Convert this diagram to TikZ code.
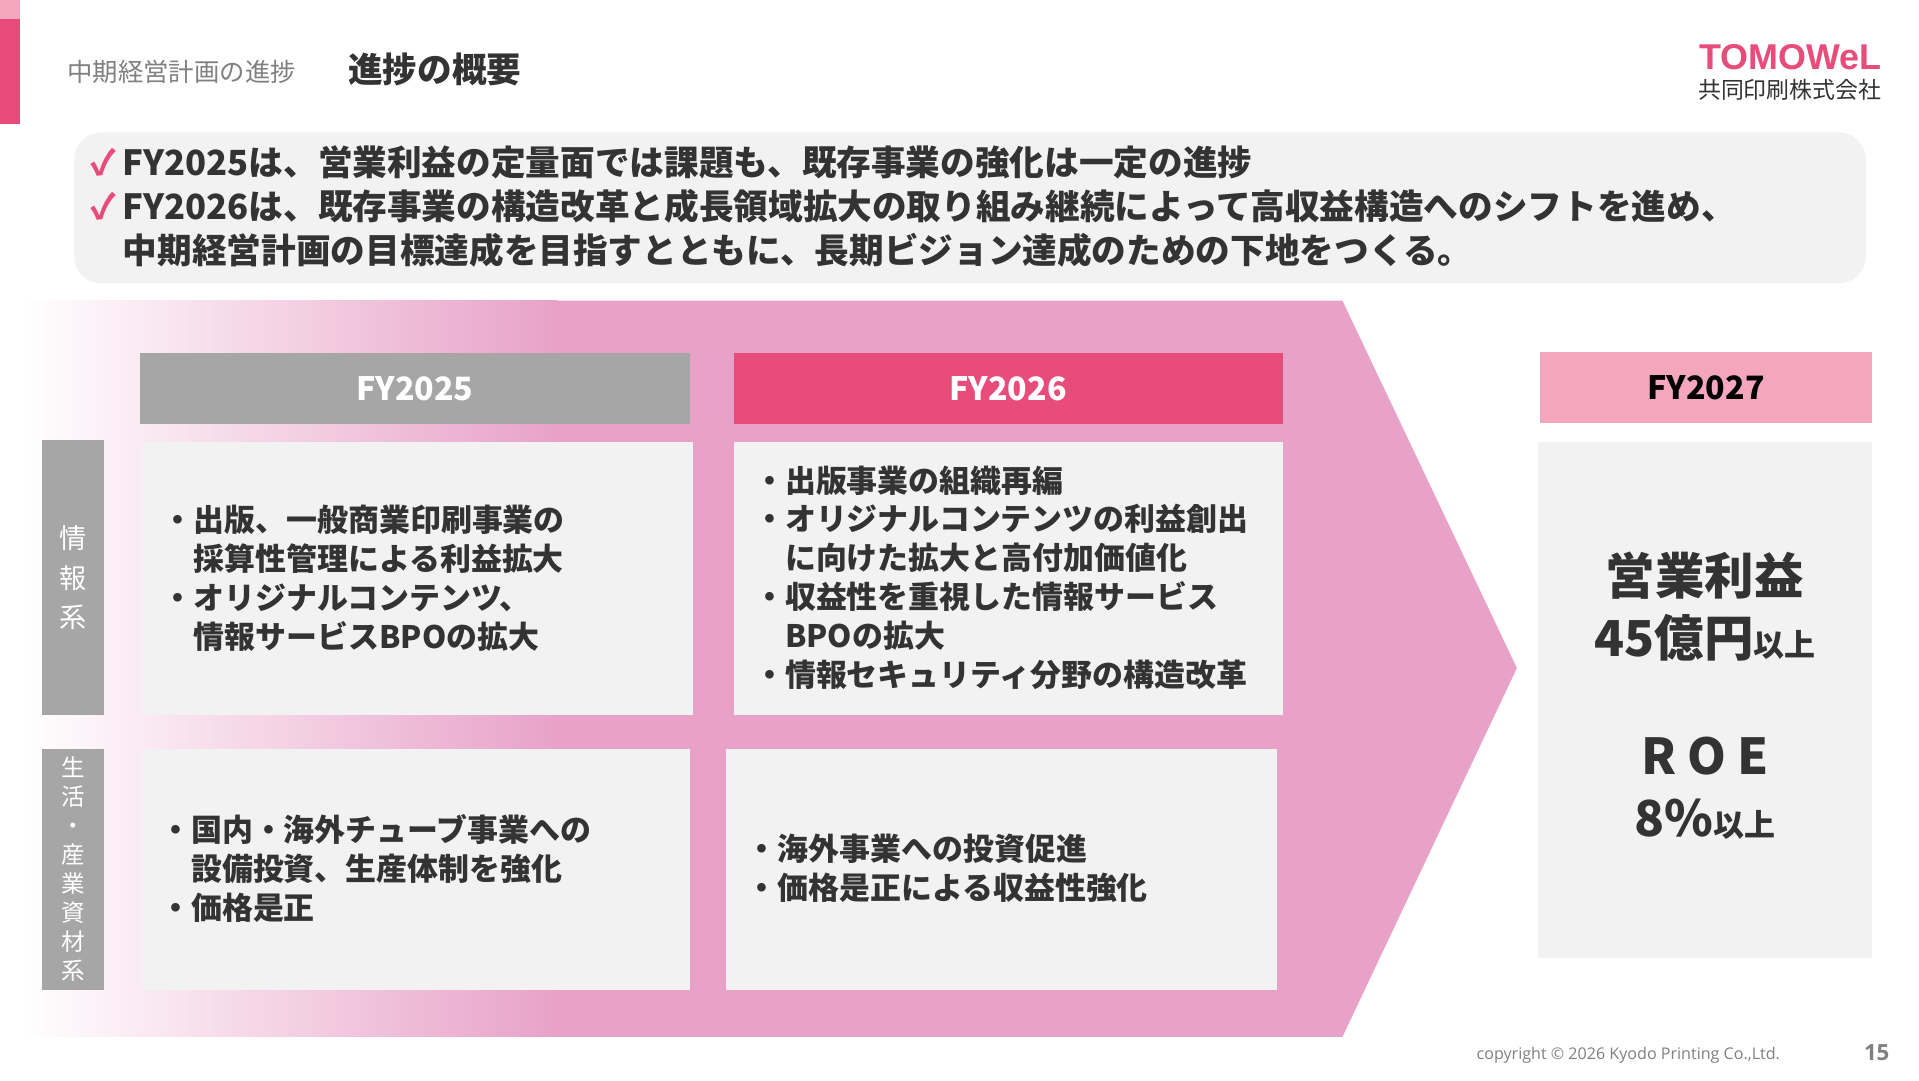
\documentclass[tikz,border=0pt]{standalone}
\usepackage{fontspec}
\setmainfont{Noto Sans CJK JP}
\newfontfamily\lat{Liberation Sans}
\newfontfamily\cp{Open Sans}
\definecolor{pk}{HTML}{E8A2C8}
\definecolor{rd}{HTML}{E84C7B}
\definecolor{lg}{HTML}{F2F2F2}
\definecolor{gy}{HTML}{A6A6A6}
\definecolor{lp}{HTML}{F4A6BE}
\definecolor{tx}{HTML}{333333}
\begin{document}
\begin{tikzpicture}[x=1pt,y=-1pt,
  box/.style={fill=lg,draw=none},
  hd/.style={font=\fontsize{26}{28}\selectfont\bfseries,text=white},
  bl/.style={anchor=west,align=left,text=tx,font=\fontsize{25}{31.5}\selectfont\bfseries},
  side/.style={text=white,align=center}]
\useasboundingbox (0,0) rectangle (1551,873);
\fill[white] (0,0) rectangle (1551,873);
\fill[rd] (0,15) rectangle (16,100);
\fill[lp] (0,0) rectangle (16,15);
\node[anchor=west,text=gray,font=\fontsize{20.5}{22}\selectfont] (t1) at (51,58) {中期経営計画の進捗};
\node[anchor=west,text=tx,font=\fontsize{28}{30}\selectfont\bfseries] (t2) at (278,56) {進捗の概要};
\node[anchor=east,text=rd,font=\lat\fontsize{29}{30}\selectfont\bfseries] (logo) at (1524,46) {TOMOWeL};
\node[anchor=east,text=tx,font=\fontsize{18.5}{20}\selectfont] (logo2) at (1524,73) {共同印刷株式会社};
\fill[lg,rounded corners=22] (60,107) rectangle (1508,229);
\node[anchor=west,text=tx,align=left,font=\fontsize{28}{35.5}\selectfont\bfseries] (sum) at (70,167)
 {\textcolor{rd}{✓}\hspace{5pt}FY2025は、営業利益の定量面では課題も、既存事業の強化は一定の進捗\\
  \textcolor{rd}{✓}\hspace{5pt}FY2026は、既存事業の構造改革と成長領域拡大の取り組み継続によって高収益構造へのシフトを進め、\\
  \phantom{✓}\hspace{5pt}中期経営計画の目標達成を目指すとともに、長期ビジョン達成のための下地をつくる。};
\fill[pk] (17,243) -- (1085,243) -- (1226,540) -- (1085,838) -- (17,838) -- cycle;
\shade[left color=white,right color=pk,draw=none] (17,243) rectangle (450,838);
\node[fill=gy,minimum width=445,minimum height=58,hd] (h1) at (335.5,314) {FY2025};
\node[fill=rd,minimum width=444,minimum height=58,hd] (h2) at (815,314) {FY2026};
\node[fill=lp,minimum width=268,minimum height=57,hd,text=black] (h3) at (1379,313) {FY2027};
\node[fill=gy,minimum width=50,minimum height=222,side,font=\fontsize{22}{32}\selectfont] (s1) at (59,467) {情\\報\\系};
\node[fill=gy,minimum width=50,minimum height=195,side,font=\fontsize{19}{23.5}\selectfont] (s2) at (59,702.5) {生\\活\\・\\産\\業\\資\\材\\系};
\fill[box] (115,357) rectangle (560,578);
\fill[box] (593,357) rectangle (1037,578);
\fill[box] (115,605) rectangle (558,800);
\fill[box] (587,605) rectangle (1032,800);
\fill[box] (1243,357) rectangle (1513,774);
\node[bl] (b1) at (128,467) {・出版、一般商業印刷事業の\\\hspace{1em}採算性管理による利益拡大\\・オリジナルコンテンツ、\\\hspace{1em}情報サービスBPOの拡大};
\node[bl] (b2) at (606,467) {・出版事業の組織再編\\・オリジナルコンテンツの利益創出\\\hspace{1em}に向けた拡大と高付加価値化\\・収益性を重視した情報サービス\\\hspace{1em}BPOの拡大\\・情報セキュリティ分野の構造改革};
\node[bl] (b3) at (126,702) {・国内・海外チューブ事業への\\\hspace{1em}設備投資、生産体制を強化\\・価格是正};
\node[bl] (b4) at (600,702) {・海外事業への投資促進\\・価格是正による収益性強化};
\node[text=tx,align=center,font=\fontsize{40}{50}\selectfont\bfseries] (g1) at (1378,490) {営業利益\\45億円{\fontsize{25}{28}\selectfont 以上}};
\node[text=tx,align=center,font=\fontsize{40}{50}\selectfont\bfseries] (g2) at (1378,637) {R O E\\8\%{\fontsize{25}{28}\selectfont 以上}};
\node[anchor=west,text=gray,font=\cp\fontsize{13}{15}\selectfont] (cp) at (1190,853) {copyright © 2026 Kyodo Printing Co.,Ltd.};
\node[anchor=west,text=gray,font=\cp\fontsize{18}{20}\selectfont\bfseries] (pg) at (1503,851) {15};
\end{tikzpicture}
\end{document}
